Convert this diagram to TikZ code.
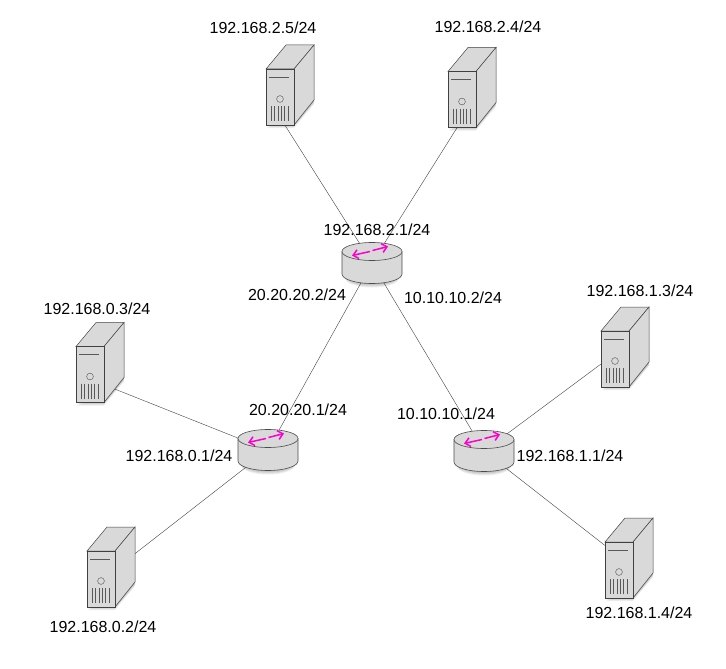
\documentclass[tikz,border=0pt]{standalone}
\usepackage{fontspec}
\setmainfont{Liberation Sans}
\usepackage{xcolor}
\usetikzlibrary{arrows.meta}
\usetikzlibrary{calc}
\definecolor{boxgray}{HTML}{D9D9D9}
\definecolor{swapmag}{HTML}{FF00CC}
\pgfdeclarelayer{linklayer}
\pgfsetlayers{linklayer,main}

\begin{document}
\begin{tikzpicture}[
  x=1pt, y=-1pt,
  addr/.style={font=\fontsize{16}{18}\selectfont, inner sep=0pt},
  link/.style={draw=black!75, line width=0.4pt},
  softshade/.style={black, opacity=0.07},
  rtbody/.style={draw=black!70, line width=0.6pt, fill=boxgray},
  rtanchor/.style={rectangle, minimum width=60pt, minimum height=40pt, inner sep=0pt},
  swaparr/.style={-{Straight Barb[length=5pt,width=9pt]}, swapmag, line width=1.5pt},
  router/.pic={
    \foreach \dd in {1,2,3,4}
      \fill[softshade] (-27,11+\dd) arc[start angle=180, end angle=0, x radius=27, y radius=9.5] -- cycle;
    \draw[rtbody] (-30,-11.5) -- (-30,11) arc[start angle=180, end angle=0, x radius=30, y radius=9.5] -- (30,-11.5) -- cycle;
    \draw[rtbody] (0,-11.5) ellipse[x radius=30, y radius=9];
    \node[rtanchor] (-body) at (0,0) {};
    \draw[swaparr] (-2,-11.5) -- (-20,-7.5);
    \draw[swaparr] (0.5,-12.5) -- (16,-16.5);
  },
  srvfront/.style={
    rectangle,
    draw=black!75,
    line width=0.5pt,
    fill=boxgray,
    minimum width=28pt,
    minimum height=56pt,
    inner sep=0pt
  },
  srvside/.style={draw=black!75, line width=0.5pt, fill=boxgray},
  srvline/.style={draw=black!65, line width=0.45pt},
  server/.pic={
    \foreach \dd in {1,2,3,4}
      \fill[softshade] (-13,27+\dd) -- (14,27+\dd) -- (34,3+\dd) -- (34,-3) -- (14,20) -- cycle;
    \draw[srvside] (-14,-28) -- (6,-52) -- (34,-52) -- (14,-28) -- cycle;
    \draw[srvside] (14,-28) -- (34,-52) -- (34,3) -- (14,28) -- cycle;
    \node[srvfront] (-front) at (0,0) {};
    \draw[srvline] (-11,-20) -- (9,-20);
    \draw[srvline] (0,2) circle (3.4pt);
    \foreach \vx in {-9,-5.6,-2.2,1.2,4.6,8}
      \draw[srvline] (\vx,9) -- (\vx,24);
  }
]
\useasboundingbox (0,0) rectangle (726,669);

% ===================== Servers =====================
\pic (srvA) at (280,97) {server};
\pic (srvB) at (462,99.5) {server};
\pic (srvC) at (90,374.5) {server};
\pic (srvD) at (101,579) {server};
\pic (srvE) at (615,359) {server};
\pic (srvF) at (619,570) {server};

% ===================== Routers =====================
\pic (rtTop)   at (372,263) {router};
\pic (rtLeft)  at (268,450) {router};
\pic (rtRight) at (484,451) {router};

% ===================== Links =====================
\begin{pgfonlayer}{linklayer}
\draw[link] (srvA-front.-80) -- (rtTop-body.center);
\draw[link] (srvB-front.-100) -- (rtTop-body.center);
\draw[link] (rtTop-body.center) -- (rtLeft-body.center);
\draw[link] (rtTop-body.center) -- (rtRight-body.center);
\draw[link] (srvC-front.-36) -- (rtLeft-body.center);
\draw[link] (srvD-front.35) -- (rtLeft-body.center);
\draw[link] (srvE-front.200) -- (rtRight-body.center);
\draw[link] (srvF-front.120) -- (rtRight-body.center);
\end{pgfonlayer}

% ===================== Addresses =====================
\node[addr] (lblA) at (263,28) {192.168.2.5/24};
\node[addr] (lblB) at (488,27) {192.168.2.4/24};
\node[addr] (lblC) at (97,309) {192.168.0.3/24};
\node[addr] (lblD) at (103,627) {192.168.0.2/24};
\node[addr] (lblE) at (640,291) {192.168.1.3/24};
\node[addr] (lblF) at (639,613) {192.168.1.4/24};

\node[addr] (lblTop)  at (377,230) {192.168.2.1/24};
\node[addr] (lblTopL) at (297,295) {20.20.20.2/24};
\node[addr] (lblTopR) at (453,298) {10.10.10.2/24};

\node[addr] (lblLeftT)  at (298,410) {20.20.20.1/24};
\node[addr] (lblLeftL)  at (179,456) {192.168.0.1/24};
\node[addr] (lblRightT) at (446,414) {10.10.10.1/24};
\node[addr] (lblRightR) at (570,456) {192.168.1.1/24};

\end{tikzpicture}
\end{document}
